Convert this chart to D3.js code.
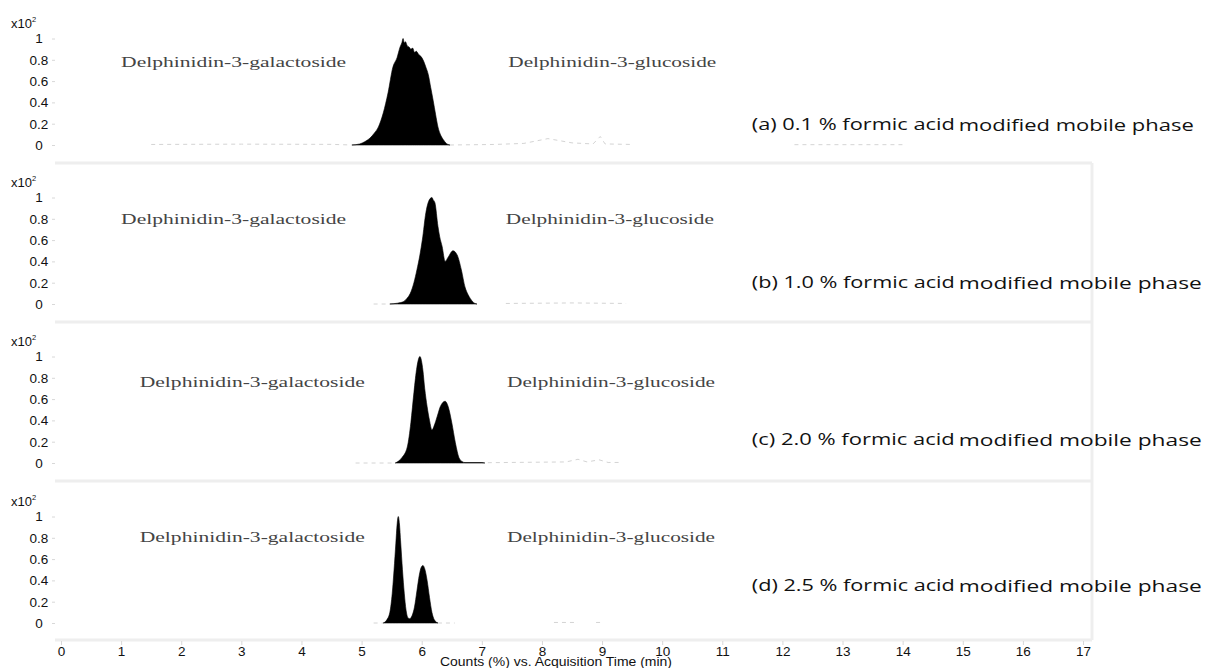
<!DOCTYPE html>
<html lang="en">
<head>
    <meta charset="UTF-8">
    <title>Chromatograms</title>
    <script src="https://d3js.org/d3.v7.min.js"></script>
    <style>
        body {
            margin: 0;
            background: #fff;
        }
        .axis text {
            font-family: 'Liberation Sans', Arial, sans-serif;
            font-size: 13.5px;
            fill: #111;
        }
        .axis .domain {
            display: none;
        }
        .axis line {
            stroke: #d8d8d8;
        }
        .compound {
            font-family: 'Liberation Serif', 'DejaVu Serif', serif;
            font-size: 15px;
            fill: #444;
        }
        .cond {
            font-family: 'Open Sans', sans-serif;
            fill: #111;
        }
    </style>
</head>
<body>
<div id="chart"></div>
<script>

    // acquisition time ticks (min) and relative intensity ticks (x10^2 counts %)
    const timeTicks = [0, 1, 2, 3, 4, 5, 6, 7, 8, 9, 10, 11, 12, 13, 14, 15, 16, 17];
    const yTicks = [0, 0.2, 0.4, 0.6, 0.8, 1];

    const conditions = ['(a) 0.1 % formic acid', '(b) 1.0 % formic acid', '(c) 2.0 % formic acid', '(d) 2.5 % formic acid'];
    const condSuffix = 'modified mobile phase';
    const compounds = ['Delphinidin-3-galactoside', 'Delphinidin-3-glucoside'];

    // [time, intensity]
    const peakA = [[4.84, 0], [4.97, 0.01], [5.05, 0.03], [5.14, 0.065], [5.21, 0.11], [5.28, 0.17], [5.36, 0.3], [5.44, 0.49],
        [5.52, 0.73], [5.59, 0.82], [5.64, 0.92], [5.67, 0.96], [5.69, 1.0], [5.71, 0.96], [5.73, 0.97], [5.76, 0.93],
        [5.79, 0.92], [5.82, 0.9], [5.85, 0.91], [5.88, 0.87], [5.91, 0.88], [5.95, 0.85], [5.99, 0.83], [6.03, 0.79],
        [6.07, 0.73], [6.11, 0.66], [6.15, 0.54], [6.19, 0.42], [6.23, 0.29], [6.27, 0.17], [6.31, 0.1], [6.36, 0.05],
        [6.41, 0.015], [6.47, 0]];
    const peakB = [[5.47, 0], [5.6, 0.008], [5.69, 0.02], [5.75, 0.05], [5.81, 0.1], [5.87, 0.2], [5.92, 0.32], [5.97, 0.46],
        [6.01, 0.6], [6.07, 0.86], [6.14, 0.99], [6.17, 1.0], [6.19, 0.98], [6.22, 0.95], [6.27, 0.73], [6.3, 0.63],
        [6.34, 0.54], [6.39, 0.4], [6.44, 0.44], [6.52, 0.5], [6.59, 0.46], [6.66, 0.32], [6.72, 0.16], [6.77, 0.09],
        [6.81, 0.05], [6.86, 0.015], [6.92, 0]];
    const peakC = [[5.56, 0], [5.62, 0.02], [5.67, 0.05], [5.76, 0.15], [5.82, 0.38], [5.87, 0.66], [5.92, 0.9], [5.97, 1.0],
        [6.02, 0.87], [6.05, 0.7], [6.09, 0.53], [6.13, 0.4], [6.17, 0.31], [6.22, 0.37], [6.27, 0.46], [6.31, 0.53],
        [6.39, 0.58], [6.44, 0.53], [6.5, 0.38], [6.56, 0.19], [6.62, 0.05], [6.67, 0.015], [6.72, 0.004], [7.0, 0.004],
        [7.05, 0]];
    const peakD = [[5.36, 0], [5.42, 0.03], [5.47, 0.1], [5.51, 0.28], [5.54, 0.5], [5.57, 0.75], [5.59, 0.92], [5.61, 1.0],
        [5.63, 0.93], [5.65, 0.76], [5.68, 0.5], [5.71, 0.28], [5.74, 0.12], [5.77, 0.05], [5.8, 0.04], [5.84, 0.07],
        [5.88, 0.15], [5.92, 0.3], [5.96, 0.45], [5.99, 0.52], [6.02, 0.54], [6.05, 0.51], [6.09, 0.4], [6.13, 0.24],
        [6.17, 0.1], [6.21, 0.03], [6.27, 0]];

    // faint baseline noise (null breaks the trace)
    const noiseA = [[1.5, 0.005], [3.0, 0.008], [4.5, 0.006], [4.84, 0], null,
        [6.47, 0], [7.2, 0.005], [7.7, 0.015], [8.1, 0.06], [8.5, 0.02], [8.85, 0.01], [8.97, 0.08], [9.05, 0.01], [9.5, 0.005], null,
        [12.2, 0.003], [14.0, 0.003]];
    const noiseB = [[5.2, 0], [5.47, 0], null, [7.4, 0.005], [8.5, 0.01], [9.4, 0.005]];
    const noiseC = [[4.9, 0], [5.56, 0], null, [7.1, 0.003], [8.4, 0.01], [8.6, 0.035], [8.75, 0.01], [8.95, 0.03],
        [9.1, 0.005], [9.3, 0.005]];
    const noiseD = [[5.2, 0], [5.36, 0], null, [6.27, 0], [6.55, 0], null, [8.2, 0.005], [8.6, 0.005], null, [8.9, 0.005], [9.0, 0.005]];

    const peaks = [peakA, peakB, peakC, peakD];
    const noises = [noiseA, noiseB, noiseC, noiseD];

    // annotation anchors in [time, intensity] per panel
    const galAt = [[1.0, 0.78], [1.0, 0.8], [1.31, 0.76], [1.31, 0.81]];
    const gluAt = [[7.44, 0.78], [7.4, 0.8], [7.42, 0.76], [7.42, 0.81]];
    const condAt = [[11.49, 0.19], [11.49, 0.2], [11.49, 0.22], [11.49, 0.35]];

    const width = 1208;
    const height = 668;
    const baselines = [145, 304, 463, 623];
    const panelTop = [4, 163, 322, 481];
    const panelH = 159;
    const left = 55, right = 1092;

    const svg = d3.select('#chart').append('svg')
        .attr('width', width)
        .attr('height', height);

    const x = d3.scaleLinear().domain([0, 17]).range([61, 1083]);

    // panel frames (light grey)
    const frame = svg.append('g')
        .attr('fill', 'none')
        .attr('stroke', '#eeeeee')
        .attr('stroke-width', 3);
    panelTop.forEach((top, i) => {
        frame.append('line')
            .attr('x1', left).attr('x2', right)
            .attr('y1', top + panelH).attr('y2', top + panelH);
        if (i > 0) {
            frame.append('line')
                .attr('x1', right).attr('x2', right)
                .attr('y1', top).attr('y2', top + panelH);
        }
    });

    peaks.forEach((peak, i) => {
        const base = baselines[i];
        const y = d3.scaleLinear().domain([0, 1]).range([base, base - 106.5]);
        const g = svg.append('g');

        const yAxis = g.append('g')
            .attr('class', 'axis')
            .attr('transform', `translate(${left},0)`)
            .call(d3.axisLeft(y).tickValues(yTicks).tickSize(3).tickFormat(d3.format('~g')));
        yAxis.selectAll('line').attr('stroke', '#eeeeee');
        yAxis.selectAll('text')
            .attr('text-anchor', 'middle')
            .attr('x', -16);

        const exp = g.append('text')
            .attr('x', 11)
            .attr('y', y(1) - 11)
            .style('font-family', "'Liberation Sans', Arial, sans-serif")
            .style('font-size', '13px')
            .attr('fill', '#111')
            .text('x10');
        exp.append('tspan')
            .attr('dy', -6)
            .style('font-size', '7.5px')
            .text('2');

        const line = d3.line()
            .defined(d => d !== null)
            .x(d => x(d[0]))
            .y(d => y(d[1]));
        g.append('path')
            .attr('d', line(noises[i]))
            .attr('fill', 'none')
            .attr('stroke', '#d4d4d4')
            .attr('stroke-width', 1)
            .attr('stroke-dasharray', '4,4');

        const area = d3.area()
            .x(d => x(d[0]))
            .y0(y(0))
            .y1(d => y(d[1]))
            .curve(d3.curveMonotoneX);
        g.append('path')
            .attr('d', area(peak))
            .attr('fill', '#000')
            .attr('stroke', '#000')
            .attr('stroke-width', 0.6);

        g.append('text')
            .attr('class', 'compound')
            .attr('x', x(galAt[i][0]))
            .attr('y', y(galAt[i][1]))
            .attr('dy', '0.35em')
            .attr('textLength', 225)
            .attr('lengthAdjust', 'spacingAndGlyphs')
            .text(compounds[0]);
        g.append('text')
            .attr('class', 'compound')
            .attr('x', x(gluAt[i][0]))
            .attr('y', y(gluAt[i][1]))
            .attr('dy', '0.35em')
            .attr('textLength', 208)
            .attr('lengthAdjust', 'spacingAndGlyphs')
            .text(compounds[1]);

        const cx = x(condAt[i][0]);
        const cy = y(condAt[i][1]);
        g.append('text')
            .attr('class', 'cond')
            .attr('x', cx)
            .attr('y', cy + 5)
            .style('font-size', '15.5px')
            .attr('textLength', 203)
            .attr('lengthAdjust', 'spacingAndGlyphs')
            .text(conditions[i]);
        g.append('text')
            .attr('class', 'cond')
            .attr('x', cx + 207)
            .attr('y', cy + 6.5)
            .style('font-size', '17px')
            .attr('textLength', i === 0 ? 235 : 243)
            .attr('lengthAdjust', 'spacingAndGlyphs')
            .text(condSuffix);
    });

    const xAxis = svg.append('g')
        .attr('class', 'axis')
        .attr('transform', 'translate(0,641)')
        .call(d3.axisBottom(x).tickValues(timeTicks).tickSize(4).tickPadding(1));

    svg.append('text')
        .attr('x', 440)
        .attr('y', 666)
        .style('font-family', "'Liberation Sans', Arial, sans-serif")
        .style('font-size', '12.5px')
        .attr('fill', '#111')
        .attr('textLength', 232)
        .attr('lengthAdjust', 'spacingAndGlyphs')
        .text('Counts (%) vs. Acquisition Time (min)');

</script>
</body>
</html>
